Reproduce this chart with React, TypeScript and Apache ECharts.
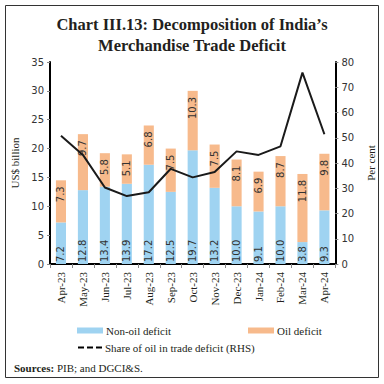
import React, { useEffect, useRef } from "react";
import * as echarts from "echarts";

const categories = ["Apr-23", "May-23", "Jun-23", "Jul-23", "Aug-23", "Sep-23", "Oct-23", "Nov-23", "Dec-23", "Jan-24", "Feb-24", "Mar-24", "Apr-24"];
const nonOilDeficit = [7.2, 12.8, 13.4, 13.9, 17.2, 12.5, 19.7, 13.2, 10.0, 9.1, 10.0, 3.8, 9.3];
const oilDeficit = [7.3, 9.7, 5.8, 5.1, 6.8, 7.5, 10.3, 7.5, 8.1, 6.9, 8.7, 11.8, 9.8];
const oilShare = [50.8, 43.2, 30.3, 26.9, 28.4, 37.7, 34.3, 36.4, 44.6, 43.2, 46.6, 75.8, 51.4];

const SERIF = "'Liberation Serif', 'DejaVu Serif', serif";
const SANS = "'DejaVu Sans', 'Liberation Sans', sans-serif";
const BLUE = "#9fd3f1";
const ORANGE = "#f7ba8c";

export default function App() {
  const ref = useRef<HTMLDivElement>(null);
  useEffect(() => {
    if (!ref.current) return;
    const chart = echarts.init(ref.current, undefined, { renderer: "svg" });
    const labelFmt = (p: any) => Number(p.value).toFixed(1);
    chart.setOption({
      animation: false,
      backgroundColor: "#ffffff",
      title: {
        text: "Chart III.13: Decomposition of India\u2019s\nMerchandise Trade Deficit",
        left: "center",
        top: 9,
        textStyle: { fontFamily: SERIF, fontWeight: "bold", fontSize: 16.5, color: "#231f20", lineHeight: 21 },
      },
      grid: { left: 50, right: 46, top: 62, bottom: 120, containLabel: false },
      legend: [
        {
          left: 72, top: 320, itemWidth: 26, itemHeight: 6,
          data: [{ name: "Non-oil deficit", icon: "rect" }],
          textStyle: { fontFamily: SERIF, fontSize: 11, color: "#231f20", padding: [0, 0, 0, -2] },
        },
        {
          left: 243, top: 320, itemWidth: 26, itemHeight: 6,
          data: [{ name: "Oil deficit", icon: "rect" }],
          textStyle: { fontFamily: SERIF, fontSize: 11, color: "#231f20", padding: [0, 0, 0, -2] },
        },
        {
          left: 72, top: 337, itemWidth: 24, itemHeight: 10,
          data: [{ name: "Share of oil in trade deficit (RHS)", itemStyle: { opacity: 0 } }],
          lineStyle: { type: [6, 3], width: 2, color: "#000" },
          textStyle: { fontFamily: SERIF, fontSize: 11, color: "#231f20", padding: [0, 0, 0, -2] },
        },
      ],
      xAxis: {
        type: "category",
        data: categories,
        axisLine: { lineStyle: { color: "#000", width: 2 } },
        axisTick: { show: true, length: 4, lineStyle: { color: "#888" } },
        axisLabel: { rotate: 90, fontFamily: SERIF, fontSize: 11, color: "#231f20", margin: 8 },
      },
      yAxis: [
        {
          type: "value", min: 0, max: 35, interval: 5,
          name: "US$ billion", nameLocation: "middle", nameGap: 21,
          nameTextStyle: { fontFamily: SERIF, fontSize: 11, color: "#231f20" },
          axisLine: { show: true, lineStyle: { color: "#000", width: 2 } },
          axisTick: { show: true, length: 3, lineStyle: { color: "#888" } },
          axisLabel: { fontFamily: SANS, fontSize: 10, color: "#333", margin: 6 },
          splitLine: { show: false },
        },
        {
          type: "value", min: 0, max: 80, interval: 10,
          name: "Per cent", nameLocation: "middle", nameGap: 25,
          nameTextStyle: { fontFamily: SERIF, fontSize: 11, color: "#231f20" },
          axisLine: { show: true, lineStyle: { color: "#000", width: 2 } },
          axisTick: { show: true, length: 3, lineStyle: { color: "#888" } },
          axisLabel: { fontFamily: SANS, fontSize: 10, color: "#333", margin: 6 },
          splitLine: { show: false },
        },
      ],
      series: [
        {
          name: "Non-oil deficit", type: "bar", stack: "d", data: nonOilDeficit, barWidth: "46%",
          itemStyle: { color: BLUE },
          label: {
            show: true, position: "insideBottom", rotate: 90, align: "left", verticalAlign: "middle",
            distance: 2, formatter: labelFmt, fontFamily: SANS, fontSize: 10, color: "#333",
          },
        },
        {
          name: "Oil deficit", type: "bar", stack: "d", data: oilDeficit, barWidth: "46%",
          itemStyle: { color: ORANGE },
          label: {
            show: true, position: "insideTop", rotate: 90, align: "right", verticalAlign: "middle",
            distance: 6, formatter: labelFmt, fontFamily: SANS, fontSize: 10, color: "#333",
          },
        },
        {
          name: "Share of oil in trade deficit (RHS)", type: "line", yAxisIndex: 1, data: oilShare,
          symbol: "none", lineStyle: { color: "#1a1a1a", width: 2 }, itemStyle: { color: "#000" },
        },
      ],
      graphic: [
        { type: "rect", shape: { x: 5.5, y: 5.5, width: 373, height: 372 }, style: { fill: "none", stroke: "#333", lineWidth: 1 }, silent: true },
        {
          type: "text", left: 14, top: 362,
          style: {
            text: "{b|Sources:} PIB; and DGCI&S.",
            font: "11px " + SERIF, fill: "#231f20",
            rich: { b: { fontWeight: "bold", fontFamily: SERIF, fontSize: 11, fill: "#231f20" } },
          },
        },
      ],
    });
    return () => chart.dispose();
  }, []);
  return <div ref={ref} style={{ width: 384, height: 384, position: "absolute", left: 0, top: 0 }} />;
}
